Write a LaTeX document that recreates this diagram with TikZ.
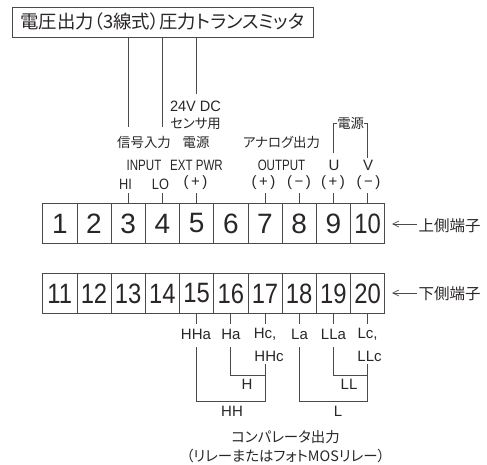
\documentclass[tikz,border=0pt]{standalone}
\usepackage{fontspec}
\setmainfont{Liberation Sans}
\newfontfamily\jp[RawFeature=+palt]{Noto Sans CJK JP}
\usetikzlibrary{arrows.meta}
\definecolor{ink}{HTML}{2A2626}
\definecolor{wire}{HTML}{4A4A4A}
\tikzset{
  cell/.style={draw=wire,line width=.8pt,minimum width=34.2pt,minimum height=39.5pt,inner sep=0pt,outer sep=0pt,text=ink,font=\fontsize{28}{28}\selectfont},
  wirel/.style={draw=wire,line width=.75pt},
  lbl/.style={inner sep=0pt,outer sep=0pt,text=ink,font=\fontsize{15}{15}\selectfont},
  jl/.style={inner sep=0pt,outer sep=0pt,text=ink,font=\jp\fontsize{13.4}{14}\selectfont},
  jlb/.style={jl,font=\jp\fontsize{14.4}{15}\selectfont},
  arr/.style={draw=wire,line width=.7pt,-{Straight Barb[length=6pt,width=6pt]}}
}
\newcommand{\nar}[1]{\scalebox{.77}[1]{#1}}
\newcommand{\nn}[1]{\scalebox{.85}[1]{#1}}
\begin{document}
\begin{tikzpicture}[x=1pt,y=-1pt]
\useasboundingbox (0,0) rectangle (487,465);
% transmitter
\node[draw=wire,line width=.8pt,minimum width=301pt,minimum height=30pt,inner sep=0pt,outer sep=0pt,text=ink,font=\jp\fontsize{18.4}{18.4}\selectfont] (top) at (162.5,22) {電圧出力（3線式）圧力トランスミッタ};
% terminals
\foreach \n/\x in {1/59.8,2/94,3/128.2,4/162.4,5/196.6,6/230.8,7/265,8/299.2,9/333.4}
  \node[cell] (c\n) at (\x,223.5) {\n};
\node[cell] (c10) at (367.6,223.5) {\nn{10}};
\foreach \n/\x in {11/59.8,12/94,13/128.2,14/162.4,15/196.6,16/230.8,17/265,18/299.2,19/333.4,20/367.6}
  \node[cell] (c\n) at (\x,293.5) {\nn{\n}};
% upper labels
\node[lbl] (dc) at (195.5,106.5) {\scalebox{.97}[1]{24V DC}};
\node[jl] (sensor) at (195.5,124) {センサ用};
\node[jl] (sig) at (144,142) {信号入力};
\node[jl] (pw1) at (196,142) {電源};
\node[jl] (ana) at (281.5,142) {アナログ出力};
\node[jl] (pw2) at (350.7,123) {電源};
\node[lbl] (inp) at (144,165) {\nar{INPUT}};
\node[lbl] (ext) at (196.5,165) {\nar{EXT PWR}};
\node[lbl] (out) at (281.5,165) {\nar{OUTPUT}};
\node[lbl] (hi) at (125.5,184) {\nn{HI}};
\node[lbl] (lo) at (160.5,184) {\nn{LO}};
\node[lbl] (pl5) at (195.5,182.5) {(\,+\,)};
\node[lbl] (pl7) at (263.5,183) {(\,+\,)};
\node[lbl] (mi8) at (299,183) {(\,−\,)};
\node[lbl] (pl9) at (333,183) {(\,+\,)};
\node[lbl] (mi10) at (368.5,183) {(\,−\,)};
\node[lbl] (u) at (334,165) {U};
\node[lbl] (v) at (368,165) {V};
% transmitter wires
\coordinate (e3) at (128.2,127);
\coordinate (e4) at (162.4,127);
\coordinate (e5) at (196.6,94);
\draw[wirel] (top.south -| e3) -- (e3);
\draw[wirel] (top.south -| e4) -- (e4);
\draw[wirel] (top.south -| e5) -- (e5);
% stubs
\foreach \n in {3,4,5,7,8,9,10}
  \draw[wirel] (c\n.north) -- ++(0,-11);
% power bracket
\coordinate (u1) at (333.4,153);
\coordinate (v1) at (367.6,158);
\draw[wirel] (u1) |- (pw2.west);
\draw[wirel] (v1) |- (pw2.east);
% side arrows
\node[jl,font=\jp\fontsize{15.5}{16}\selectfont] (upt) at (449.5,226) {上側端子};
\node[jl,font=\jp\fontsize{15.5}{16}\selectfont] (lot) at (449.5,293.5) {下側端子};
\coordinate (ua) at (392,224);
\coordinate (la) at (392,293);
\draw[arr] (upt.west |- ua) ++(-2,0) -- (ua);
\draw[arr] (lot.west |- la) ++(-2,0) -- (la);
% lower labels
\node[lbl] (hha) at (196,334) {HHa};
\node[lbl] (ha) at (231,334) {Ha};
\node[lbl] (hc) at (265,334) {Hc,};
\node[lbl] (hhc) at (269,356) {HHc};
\node[lbl] (lla0) at (299.5,334) {La};
\node[lbl] (lla) at (333.5,334) {LLa};
\node[lbl] (lc) at (367.5,334) {Lc,};
\node[lbl] (llc) at (369.5,356) {LLc};
\node[lbl] (h) at (247,384) {H};
\node[lbl] (hh) at (232,411) {HH};
\node[lbl] (l) at (338,411) {L};
\node[lbl] (ll) at (349,384) {LL};
\node[jlb] (cmp) at (285.5,437) {コンパレータ出力};
\node[jlb] (rel) at (285.5,456) {（リレーまたはフォトMOSリレー）};
\foreach \n in {15,16,17,18,19,20}
  \draw[wirel] (c\n.south) -- ++(0,11);
% relay wires
\coordinate (a15) at (196.6,347);
\coordinate (a16) at (230.8,347);
\coordinate (a18) at (299.2,347);
\coordinate (a19) at (333.4,347);
\coordinate (a17) at (265,364);
\coordinate (a20) at (367.6,364);
\draw[wirel] (a15) |- (265,401) -- (a17);
\draw[wirel] (a16) |- (a17 |- 0,375);
\draw[wirel] (a18) |- (367.6,401) -- (a20);
\draw[wirel] (a19) |- (a20 |- 0,375);
\end{tikzpicture}
\end{document}
